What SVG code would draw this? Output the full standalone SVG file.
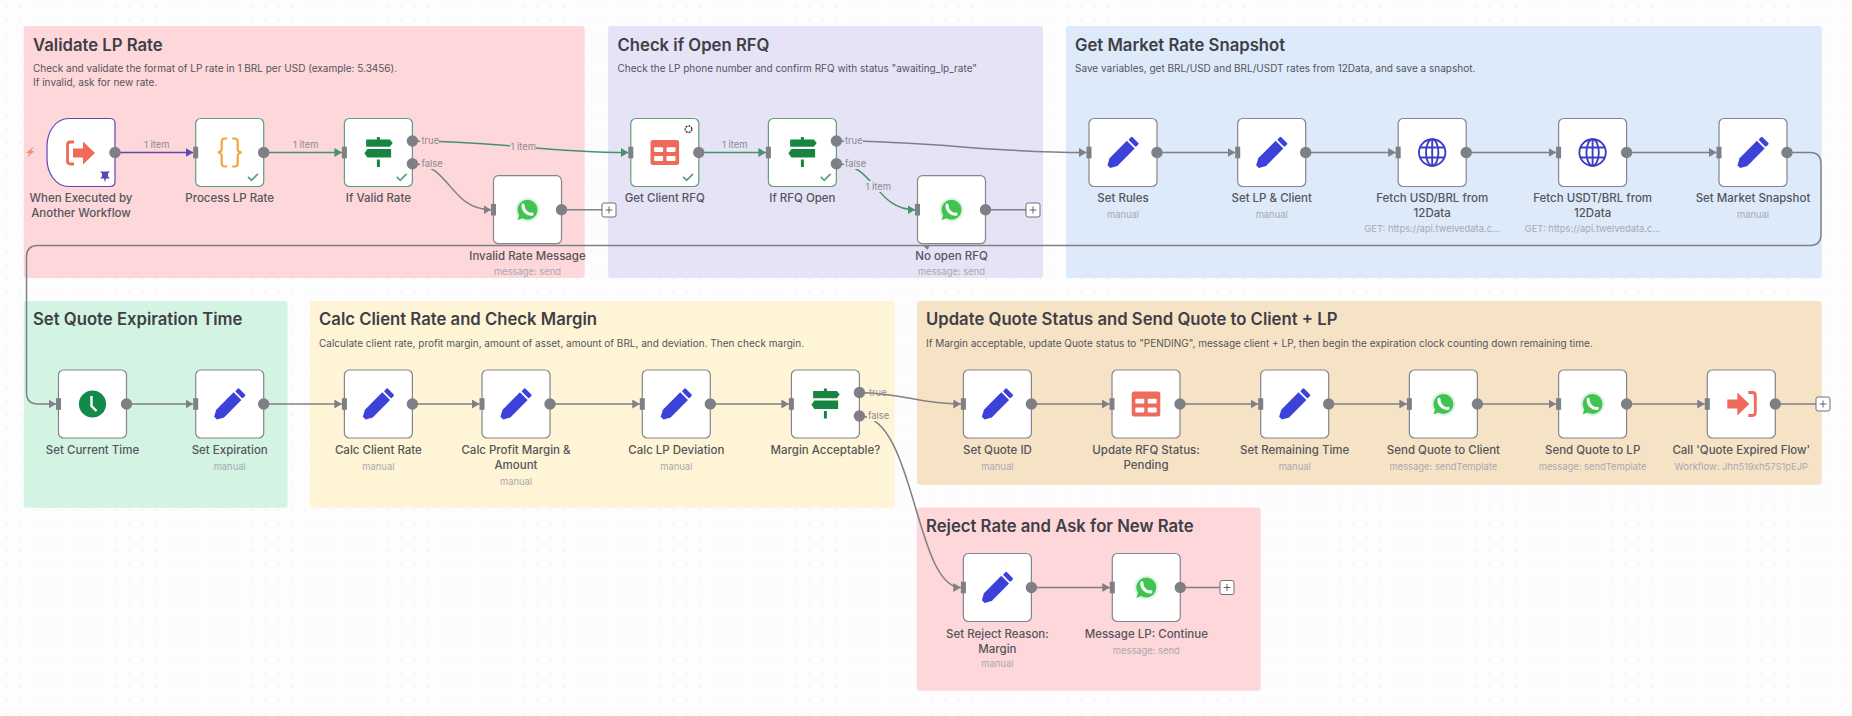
<svg xmlns="http://www.w3.org/2000/svg" width="1852" height="716" viewBox="0 0 1852 716">
<style>
text{font-family:Inter,"Noto Sans","Liberation Sans",sans-serif}
.st{font-size:16.7px;font-weight:600;fill:#3f3f46}
.sd{font-size:10px;fill:#55555c}
.box{fill:#fff;stroke:#85858c;stroke-width:1.2}
.ok{stroke:#5f9e80}
.nm{font-size:11.5px;font-weight:500;fill:#55555c;text-anchor:middle}
.sb{font-size:9.4px;fill:#a9a9b0;text-anchor:middle}
.cl{font-size:9.4px;fill:#8a8a90}
.c{fill:none;stroke:#7f7f86;stroke-width:1.5}
.cg{fill:none;stroke:#43936c;stroke-width:1.5}
.cp{fill:none;stroke:#5b48b4;stroke-width:1.5}
.port{fill:#7f7f86}
.plus{fill:#fff;stroke:#6f6f76;stroke-width:1}
</style>
<defs>
<pattern id="dots" width="13.6" height="13.6" patternUnits="userSpaceOnUse"><circle cx="6.8" cy="6.8" r="0.7" fill="#e4e4ea"/></pattern>
<marker id="ag" markerUnits="userSpaceOnUse" markerWidth="8" markerHeight="10" refX="7.5" refY="4.5" orient="auto"><path d="M0 0L7.5 4.5L0 9z" fill="#7f7f86"/></marker>
<marker id="agr" markerUnits="userSpaceOnUse" markerWidth="8" markerHeight="10" refX="7.5" refY="4.5" orient="auto"><path d="M0 0L7.5 4.5L0 9z" fill="#43936c"/></marker>
<marker id="ap" markerUnits="userSpaceOnUse" markerWidth="8" markerHeight="10" refX="7.5" refY="4.5" orient="auto"><path d="M0 0L7.5 4.5L0 9z" fill="#5b48b4"/></marker>
<g id="pencil" fill="#3b41d9" transform="rotate(-45)"><path d="M-20 -2L-13.5 -5.5H11V5.5H-13.5L-20 2z"/><rect x="12.8" y="-5.2" width="4.8" height="10.4" rx="1.2"/></g>
<g id="sign" fill="#17843f"><path d="M-12.3 -13H11.5L14.3 -9.4L11.5 -5.8H-12.3z"/><path d="M-11 -3.4H12.7V5H-11L-14 .8z"/><rect x="-1.5" y="-15.5" width="3" height="3"/><rect x="-1.5" y="7" width="3" height="7.5"/></g>
<g id="table"><rect x="-14.3" y="-12.5" width="28.6" height="25" rx="2.5" fill="#ee6a5a"/><g fill="#fff"><rect x="-10.7" y="-5.2" width="9" height="4.8" rx="1"/><rect x="1.7" y="-5.2" width="9" height="4.8" rx="1"/><rect x="-10.7" y="3.4" width="9" height="5" rx="1"/><rect x="1.7" y="3.4" width="9" height="5" rx="1"/></g></g>
<g id="globe" fill="none" stroke="#3b3fbf" stroke-width="1.9"><circle r="13.2"/><ellipse rx="6.2" ry="13.2"/><path d="M-12 -5H12M-12 5H12M0 -13V13"/></g>
<g id="wa"><circle r="12" fill="#dff2e4"/><path d="M-10 10.5L-8 4.5L-4 8z" fill="#40c351"/><circle r="10" fill="#40c351"/><path d="M-4.4 -4.6C-5 .4 .2 5.2 4.6 4.4" fill="none" stroke="#fff" stroke-width="3.1" stroke-linecap="round"/></g>
<g id="check" fill="none" stroke="#5f9e80" stroke-width="1.8"><path d="M-15.7 -9.7L-12.2 -6.2L-5.8 -12.7"/></g>
</defs>
<rect width="1852" height="716" fill="#fdfdfe"/>
<rect width="1852" height="716" fill="url(#dots)"/>

<g id="stickies">
<g id="sticky-validate"><rect x="23.7" y="26" width="561" height="252" rx="3" fill="#fdd7da"/><text class="st" x="33" y="51">Validate LP Rate</text><text class="sd" x="33" y="72">Check and validate the format of LP rate in 1 BRL per USD (example: 5.3456).</text><text class="sd" x="33" y="86">If invalid, ask for new rate.</text></g>
<g id="sticky-rfq"><rect x="608" y="26" width="435" height="252" rx="3" fill="#e5e3f5"/><text class="st" x="617.5" y="51">Check if Open RFQ</text><text class="sd" x="617.5" y="72">Check the LP phone number and confirm RFQ with status "awaiting_lp_rate"</text></g>
<g id="sticky-market"><rect x="1066" y="26" width="755.8" height="252" rx="3" fill="#dceaf9"/><text class="st" x="1075" y="51">Get Market Rate Snapshot</text><text class="sd" x="1075" y="72">Save variables, get BRL/USD and BRL/USDT rates from 12Data, and save a snapshot.</text></g>
<g id="sticky-expiration"><rect x="23.7" y="301" width="263.8" height="206.7" rx="3" fill="#d3f3e3"/><text class="st" x="33" y="325">Set Quote Expiration Time</text></g>
<g id="sticky-calc"><rect x="309.6" y="301" width="585" height="206.7" rx="3" fill="#fff4d5"/><text class="st" x="319" y="325">Calc Client Rate and Check Margin</text><text class="sd" x="319" y="347">Calculate client rate, profit margin, amount of asset, amount of BRL, and deviation. Then check margin.</text></g>
<g id="sticky-update"><rect x="917" y="301" width="904.8" height="183.7" rx="3" fill="#f6e3c6"/><text class="st" x="926" y="325">Update Quote Status and Send Quote to Client + LP</text><text class="sd" x="926" y="347">If Margin acceptable, update Quote status to "PENDING", message client + LP, then begin the expiration clock counting down remaining time.</text></g>
<g id="sticky-reject"><rect x="916.7" y="507.5" width="344" height="183.2" rx="3" fill="#fdd7da"/><text class="st" x="926" y="532">Reject Rate and Ask for New Rate</text></g>
</g>

<g id="connectors">
<path class="cp" marker-end="url(#ap)" d="M115 152.5H193.2"/>
<path class="cg" marker-end="url(#agr)" d="M263.7 152.5H341.9"/>
<path class="cg" marker-end="url(#agr)" d="M412.8 141C500 141 540 152.5 628.3 152.5"/>
<path class="c" marker-end="url(#ag)" d="M412.8 163.7C450 163.7 450 209.7 491 209.7"/>
<path class="c" d="M561.5 209.7H602"/>
<path class="cg" marker-end="url(#agr)" d="M699 152.5H765.9"/>
<path class="c" marker-end="url(#ag)" d="M836.5 141C940 141 980 152.5 1086.5 152.5"/>
<path class="cg" marker-end="url(#agr)" d="M836.5 163.7C875 163.7 875 209.7 915 209.7"/>
<path class="c" d="M985.5 209.7H1026"/>
<path class="c" marker-end="url(#ag)" d="M1157 152.5H1235.2"/>
<path class="c" marker-end="url(#ag)" d="M1305.7 152.5H1395.7"/>
<path class="c" marker-end="url(#ag)" d="M1466 152.5H1556.1"/>
<path class="c" marker-end="url(#ag)" d="M1626.6 152.5H1716.5"/>
<path class="c" marker-end="url(#ag)" d="M1787 152.5H1810Q1821 152.5 1821 164V234Q1821 245.5 1810 245.5H38Q26.5 245.5 26.5 257V392.5Q26.5 404 38 404H56"/>
<path d="M922.5 245L930 245L927.5 250z" fill="#7f7f86"/>
<path class="c" marker-end="url(#ag)" d="M126.5 404H193.2"/>
<path class="c" marker-end="url(#ag)" d="M263.7 404H341.9"/>
<path class="c" marker-end="url(#ag)" d="M412.8 404H479.5"/>
<path class="c" marker-end="url(#ag)" d="M550 404H639.8"/>
<path class="c" marker-end="url(#ag)" d="M710.5 404H788.9"/>
<path class="c" marker-end="url(#ag)" d="M859.5 392.7C905 392.7 915 404 960.9 404"/>
<path class="c" marker-end="url(#ag)" d="M859.5 416C915 416 915 587.5 960.8 587.5"/>
<path class="c" marker-end="url(#ag)" d="M1031.4 404H1109.5"/>
<path class="c" marker-end="url(#ag)" d="M1180 404H1258.2"/>
<path class="c" marker-end="url(#ag)" d="M1328.7 404H1406.9"/>
<path class="c" marker-end="url(#ag)" d="M1477.4 404H1556.1"/>
<path class="c" marker-end="url(#ag)" d="M1626.6 404H1704.8"/>
<path class="c" d="M1775.3 404H1816"/>
<path class="c" marker-end="url(#ag)" d="M1031.4 587.5H1109.8"/>
<path class="c" d="M1180.4 587.5H1220"/>
<g id="connector-labels">
<text class="cl" x="144" y="147.5">1 item</text>
<text class="cl" x="293" y="147.5">1 item</text>
<rect x="420" y="136" width="19" height="11" fill="#fdd7da"/><text class="cl" x="421.5" y="144.3">true</text>
<rect x="420" y="158" width="22" height="11" fill="#fdd7da"/><text class="cl" x="421.5" y="167">false</text>
<rect x="510" y="141" width="26" height="11" fill="#fdd7da"/><text class="cl" x="510.5" y="150">1 item</text>
<text class="cl" x="722" y="147.5">1 item</text>
<rect x="844" y="136" width="19" height="11" fill="#e5e3f5"/><text class="cl" x="845" y="144.3">true</text>
<rect x="844" y="158" width="22" height="11" fill="#e5e3f5"/><text class="cl" x="845" y="167">false</text>
<rect x="865" y="181" width="26" height="11" fill="#e5e3f5"/><text class="cl" x="865.5" y="190">1 item</text>
<text class="cl" x="869" y="396.3" fill-opacity="0.9">true</text>
<rect x="867" y="410" width="22" height="11" fill="#fff4d5"/><text class="cl" x="868" y="419.3">false</text>
</g>
</g>

<g id="nodes">
<g id="n-trigger" transform="translate(47,118.5)"><path class="box" style="stroke:#5b48b4" d="M22 0H63Q68 0 68 5V63Q68 68 63 68H22C8 68 0 54 0 40V28C0 14 8 0 22 0z"/><path d="M27 23.5H23.5Q20.5 23.5 20.5 26.5V42.5Q20.5 45.5 23.5 45.5H27" fill="none" stroke="#ef6a58" stroke-width="2.8"/><path d="M26 30H36V23L48 34.5L36 46V39H26z" fill="#ef6a58"/><path d="M53 53H63L61 55V58L63 60H59L58 64L57 60H53L55 58V55z" fill="#5b48b4"/><circle class="port" cx="68" cy="34" r="5.7"/><path d="M-13 28L-21 34.5H-17.5L-20 39L-12.5 32.5H-16z" fill="#f08a7a"/><text class="nm" x="34" y="83.5">When Executed by</text><text class="nm" x="34" y="98.5">Another Workflow</text></g>

<g id="n-process" transform="translate(195.7,118.5)"><rect class="box ok" width="68" height="68" rx="5"/><g transform="translate(34,34)" fill="none" stroke="#f2a63c" stroke-width="2.2"><path d="M-2.5 -14H-5Q-8 -14 -8 -11V-3.5Q-8 -.5 -12 0Q-8 .5 -8 3.5V11Q-8 14 -5 14H-2.5"/><path d="M2.5 -14H5Q8 -14 8 -11V-3.5Q8 -.5 12 0Q8 .5 8 3.5V11Q8 14 5 14H2.5"/></g><use href="#check" transform="translate(68,68)"/><rect class="port" x="-2.5" y="28.2" width="5" height="11.6"/><circle class="port" cx="68" cy="34" r="5.7"/><text class="nm" x="34" y="83.5">Process LP Rate</text></g>

<g id="n-ifvalid" transform="translate(344.4,118.5)"><rect class="box ok" width="68" height="68" rx="5"/><use href="#sign" transform="translate(34,34)"/><use href="#check" transform="translate(68,68)"/><rect class="port" x="-2.5" y="28.2" width="5" height="11.6"/><circle class="port" cx="68" cy="22.5" r="5.7"/><circle class="port" cx="68" cy="45.2" r="5.7"/><text class="nm" x="34" y="83.5">If Valid Rate</text></g>

<g id="n-invalid" transform="translate(493.5,175.7)"><rect class="box" width="68" height="68" rx="5"/><use href="#wa" transform="translate(34,34)"/><rect class="port" x="-2.5" y="28.2" width="5" height="11.6"/><circle class="port" cx="68" cy="34" r="5.7"/><text class="nm" x="34" y="84.5">Invalid Rate Message</text><text class="sb" x="34" y="99.5">message: send</text></g>
<rect id="plus-invalid" class="plus" x="602" y="203" width="14" height="14" rx="2"/>
<g id="n-getrfq" transform="translate(630.8,118.5)"><rect class="box ok" width="68" height="68" rx="5"/><use href="#table" transform="translate(34,34)"/><circle cx="57.7" cy="10.7" r="3.3" fill="none" stroke="#333" stroke-width="1.4" stroke-dasharray="2 1"/><use href="#check" transform="translate(68,68)"/><rect class="port" x="-2.5" y="28.2" width="5" height="11.6"/><circle class="port" cx="68" cy="34" r="5.7"/><text class="nm" x="34" y="83.5">Get Client RFQ</text></g>
<g id="n-ifrfq" transform="translate(768.4,118.5)"><rect class="box ok" width="68" height="68" rx="5"/><use href="#sign" transform="translate(34,34)"/><use href="#check" transform="translate(68,68)"/><rect class="port" x="-2.5" y="28.2" width="5" height="11.6"/><circle class="port" cx="68" cy="22.5" r="5.7"/><circle class="port" cx="68" cy="45.2" r="5.7"/><text class="nm" x="34" y="83.5">If RFQ Open</text></g>
<g id="n-noopen" transform="translate(917.5,175.7)"><rect class="box" width="68" height="68" rx="5"/><use href="#wa" transform="translate(34,34)"/><rect class="port" x="-2.5" y="28.2" width="5" height="11.6"/><circle class="port" cx="68" cy="34" r="5.7"/><text class="nm" x="34" y="84.5">No open RFQ</text><text class="sb" x="34" y="99.5">message: send</text></g>
<rect id="plus-noopen" class="plus" x="1026" y="203" width="14" height="14" rx="2"/>
<g id="n-setrules" transform="translate(1089,118.5)"><rect class="box" width="68" height="68" rx="5"/><use href="#pencil" transform="translate(34,34)"/><rect class="port" x="-2.5" y="28.2" width="5" height="11.6"/><circle class="port" cx="68" cy="34" r="5.7"/><text class="nm" x="34" y="83.5">Set Rules</text><text class="sb" x="34" y="99.5">manual</text></g>
<g id="n-setlp" transform="translate(1237.7,118.5)"><rect class="box" width="68" height="68" rx="5"/><use href="#pencil" transform="translate(34,34)"/><rect class="port" x="-2.5" y="28.2" width="5" height="11.6"/><circle class="port" cx="68" cy="34" r="5.7"/><text class="nm" x="34" y="83.5">Set LP &amp; Client</text><text class="sb" x="34" y="99.5">manual</text></g>
<g id="n-fetchusd" transform="translate(1398.2,118.5)"><rect class="box" width="68" height="68" rx="5"/><use href="#globe" transform="translate(34,34)"/><rect class="port" x="-2.5" y="28.2" width="5" height="11.6"/><circle class="port" cx="68" cy="34" r="5.7"/><text class="nm" x="34" y="83.5">Fetch USD/BRL from</text><text class="nm" x="34" y="98.5">12Data</text><text class="sb" x="34" y="113">GET: https://api.twelvedata.c...</text></g>
<g id="n-fetchusdt" transform="translate(1558.6,118.5)"><rect class="box" width="68" height="68" rx="5"/><use href="#globe" transform="translate(34,34)"/><rect class="port" x="-2.5" y="28.2" width="5" height="11.6"/><circle class="port" cx="68" cy="34" r="5.7"/><text class="nm" x="34" y="83.5">Fetch USDT/BRL from</text><text class="nm" x="34" y="98.5">12Data</text><text class="sb" x="34" y="113">GET: https://api.twelvedata.c...</text></g>
<g id="n-setsnapshot" transform="translate(1719,118.5)"><rect class="box" width="68" height="68" rx="5"/><use href="#pencil" transform="translate(34,34)"/><rect class="port" x="-2.5" y="28.2" width="5" height="11.6"/><circle class="port" cx="68" cy="34" r="5.7"/><text class="nm" x="34" y="83.5">Set Market Snapshot</text><text class="sb" x="34" y="99.5">manual</text></g>

<g id="n-currenttime" transform="translate(58.5,370)"><rect class="box" width="68" height="68" rx="5"/><g transform="translate(34,34)"><circle r="13.6" fill="#128a4a"/><path d="M-1 -8V2L4 7" fill="none" stroke="#fff" stroke-width="2.4"/></g><rect class="port" x="-2.5" y="28.2" width="5" height="11.6"/><circle class="port" cx="68" cy="34" r="5.7"/><text class="nm" x="34" y="84">Set Current Time</text></g>
<g id="n-setexp" transform="translate(195.7,370)"><rect class="box" width="68" height="68" rx="5"/><use href="#pencil" transform="translate(34,34)"/><rect class="port" x="-2.5" y="28.2" width="5" height="11.6"/><circle class="port" cx="68" cy="34" r="5.7"/><text class="nm" x="34" y="84">Set Expiration</text><text class="sb" x="34" y="100">manual</text></g>
<g id="n-calcclient" transform="translate(344.4,370)"><rect class="box" width="68" height="68" rx="5"/><use href="#pencil" transform="translate(34,34)"/><rect class="port" x="-2.5" y="28.2" width="5" height="11.6"/><circle class="port" cx="68" cy="34" r="5.7"/><text class="nm" x="34" y="84">Calc Client Rate</text><text class="sb" x="34" y="100">manual</text></g>
<g id="n-calcprofit" transform="translate(482,370)"><rect class="box" width="68" height="68" rx="5"/><use href="#pencil" transform="translate(34,34)"/><rect class="port" x="-2.5" y="28.2" width="5" height="11.6"/><circle class="port" cx="68" cy="34" r="5.7"/><text class="nm" x="34" y="84">Calc Profit Margin &amp;</text><text class="nm" x="34" y="99">Amount</text><text class="sb" x="34" y="114.5">manual</text></g>
<g id="n-calclp" transform="translate(642.3,370)"><rect class="box" width="68" height="68" rx="5"/><use href="#pencil" transform="translate(34,34)"/><rect class="port" x="-2.5" y="28.2" width="5" height="11.6"/><circle class="port" cx="68" cy="34" r="5.7"/><text class="nm" x="34" y="84">Calc LP Deviation</text><text class="sb" x="34" y="100">manual</text></g>
<g id="n-margin" transform="translate(791.4,370)"><rect class="box" width="68" height="68" rx="5"/><use href="#sign" transform="translate(34,34)"/><rect class="port" x="-2.5" y="28.2" width="5" height="11.6"/><circle class="port" cx="68" cy="22.5" r="5.7"/><circle class="port" cx="68" cy="46" r="5.7"/><text class="nm" x="34" y="84">Margin Acceptable?</text></g>

<g id="n-quoteid" transform="translate(963.4,370)"><rect class="box" width="68" height="68" rx="5"/><use href="#pencil" transform="translate(34,34)"/><rect class="port" x="-2.5" y="28.2" width="5" height="11.6"/><circle class="port" cx="68" cy="34" r="5.7"/><text class="nm" x="34" y="84">Set Quote ID</text><text class="sb" x="34" y="100">manual</text></g>
<g id="n-updaterfq" transform="translate(1112,370)"><rect class="box" width="68" height="68" rx="5"/><use href="#table" transform="translate(34,34)"/><rect class="port" x="-2.5" y="28.2" width="5" height="11.6"/><circle class="port" cx="68" cy="34" r="5.7"/><text class="nm" x="34" y="84">Update RFQ Status:</text><text class="nm" x="34" y="99">Pending</text></g>
<g id="n-remaining" transform="translate(1260.7,370)"><rect class="box" width="68" height="68" rx="5"/><use href="#pencil" transform="translate(34,34)"/><rect class="port" x="-2.5" y="28.2" width="5" height="11.6"/><circle class="port" cx="68" cy="34" r="5.7"/><text class="nm" x="34" y="84">Set Remaining Time</text><text class="sb" x="34" y="100">manual</text></g>
<g id="n-sendclient" transform="translate(1409.4,370)"><rect class="box" width="68" height="68" rx="5"/><use href="#wa" transform="translate(34,34)"/><rect class="port" x="-2.5" y="28.2" width="5" height="11.6"/><circle class="port" cx="68" cy="34" r="5.7"/><text class="nm" x="34" y="84">Send Quote to Client</text><text class="sb" x="34" y="100">message: sendTemplate</text></g>
<g id="n-sendlp" transform="translate(1558.6,370)"><rect class="box" width="68" height="68" rx="5"/><use href="#wa" transform="translate(34,34)"/><rect class="port" x="-2.5" y="28.2" width="5" height="11.6"/><circle class="port" cx="68" cy="34" r="5.7"/><text class="nm" x="34" y="84">Send Quote to LP</text><text class="sb" x="34" y="100">message: sendTemplate</text></g>
<g id="n-callexpired" transform="translate(1707.3,370)"><rect class="box" width="68" height="68" rx="5"/><g transform="translate(34,34)"><path d="M-14 -4.5H-4V-11.5L8 0L-4 11.5V4.5H-14z" fill="#ef6a58"/><path d="M7 -11.5H11Q14 -11.5 14 -8.5V8.5Q14 11.5 11 11.5H7" fill="none" stroke="#ef6a58" stroke-width="2.8"/></g><rect class="port" x="-2.5" y="28.2" width="5" height="11.6"/><circle class="port" cx="68" cy="34" r="5.7"/><text class="nm" x="34" y="84">Call 'Quote Expired Flow'</text><text class="sb" x="34" y="100">Workflow: Jhn519xh57S1pEJP</text></g>
<rect id="plus-call" class="plus" x="1816" y="397" width="14" height="14" rx="2"/>

<g id="n-reject" transform="translate(963.4,553.5)"><rect class="box" width="68" height="68" rx="5"/><use href="#pencil" transform="translate(34,34)"/><rect class="port" x="-2.5" y="28.2" width="5" height="11.6"/><circle class="port" cx="68" cy="34" r="5.7"/><text class="nm" x="34" y="84">Set Reject Reason:</text><text class="nm" x="34" y="99">Margin</text><text class="sb" x="34" y="113.5">manual</text></g>
<g id="n-messagelp" transform="translate(1112.3,553.5)"><rect class="box" width="68" height="68" rx="5"/><use href="#wa" transform="translate(34,34)"/><rect class="port" x="-2.5" y="28.2" width="5" height="11.6"/><circle class="port" cx="68" cy="34" r="5.7"/><text class="nm" x="34" y="84">Message LP: Continue</text><text class="sb" x="34" y="100">message: send</text></g>
<rect id="plus-message" class="plus" x="1220" y="580.5" width="14" height="14" rx="2"/>
</g>
<g id="plus-signs" stroke="#55555c" stroke-width="0.9"><path d="M609 206.5V213.5M605.5 210H612.5"/><path d="M1033 206.5V213.5M1029.5 210H1036.5"/><path d="M1823 400.5V407.5M1819.5 404H1826.5"/><path d="M1227 584V591M1223.5 587.5H1230.5"/></g>
</svg>
